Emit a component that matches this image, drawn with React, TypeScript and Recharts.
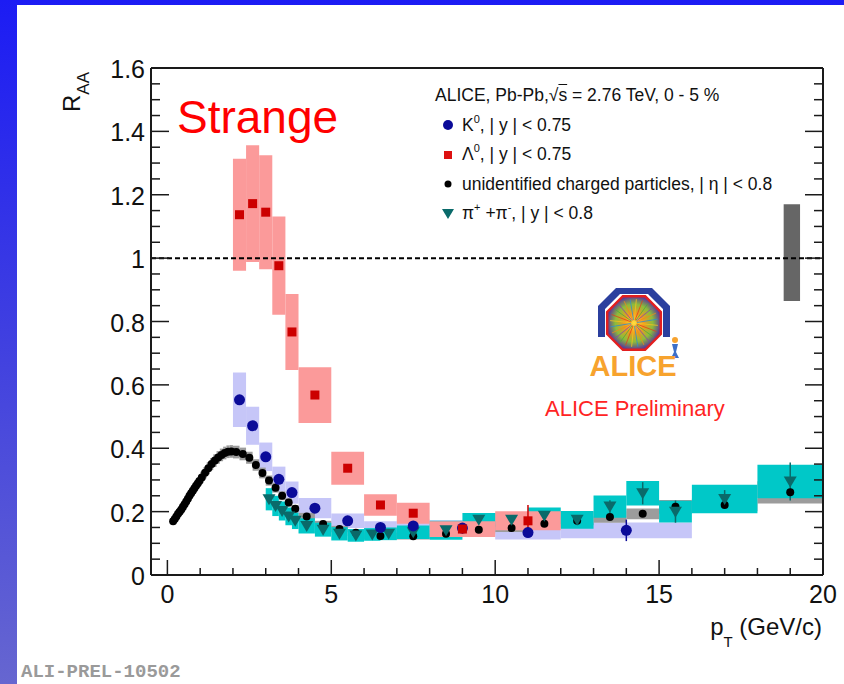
import React from 'react'
import {
  ComposedChart,
  Scatter,
  XAxis,
  YAxis,
  ReferenceArea,
  ReferenceLine,
  ErrorBar,
  Legend,
} from 'recharts'

const FONT = '"Liberation Sans", Arial, Helvetica, sans-serif'
const AXIS = '#1a1a1a'

// unidentified charged particles, |eta| < 0.8: pT bin edges (GeV/c), R_AA, syst.
const CH_EDGES = [
  0.15, 0.2, 0.25, 0.3, 0.35, 0.4, 0.45, 0.5, 0.55, 0.6, 0.65, 0.7, 0.75, 0.8, 0.85, 0.9, 0.95, 1.0,
  1.1, 1.2, 1.3, 1.4, 1.5, 1.6, 1.7, 1.8, 1.9, 2.0,
  2.2, 2.4, 2.6, 2.8, 3.0, 3.2, 3.4, 3.6, 3.8, 4.0,
  4.5, 5.0, 5.5, 6.0,
  7, 8, 9, 10, 11, 12, 13, 14, 15, 16, 18, 20,
]
const CH_RAA = [
  0.17, 0.177, 0.185, 0.193, 0.2, 0.207, 0.215, 0.223, 0.232, 0.241, 0.25, 0.258, 0.266, 0.274, 0.282, 0.289, 0.297,
  0.308, 0.323, 0.337, 0.35, 0.361, 0.371, 0.379, 0.385, 0.389, 0.39,
  0.388, 0.382, 0.37, 0.347, 0.322, 0.298, 0.275, 0.25, 0.229, 0.209,
  0.185, 0.161, 0.145, 0.133,
  0.123, 0.122, 0.13, 0.143, 0.148, 0.162, 0.171, 0.183, 0.193, 0.215, 0.221, 0.261,
]
const CH_SYS = [
  0.012, 0.012, 0.012, 0.013, 0.013, 0.013, 0.014, 0.014, 0.014, 0.015, 0.015, 0.015, 0.016, 0.016, 0.016, 0.017, 0.017,
  0.018, 0.018, 0.019, 0.019, 0.02, 0.02, 0.02, 0.02, 0.02, 0.02,
  0.02, 0.02, 0.019, 0.018, 0.017, 0.016, 0.015, 0.014, 0.013, 0.012,
  0.011, 0.01, 0.01, 0.01,
  0.01, 0.01, 0.011, 0.012, 0.012, 0.013, 0.014, 0.018, 0.017, 0.022, 0.02, 0.035,
]

// pi+ + pi-, |y| < 0.8
const PI_EDGES = [3.0, 3.2, 3.4, 3.6, 3.8, 4.0, 4.5, 5.0, 5.5, 6.0, 6.5, 7.0, 8, 9, 10, 11, 12, 13, 14, 15, 16, 18, 20]
const PI_RAA = [
  0.239, 0.218, 0.202, 0.185, 0.171, 0.155, 0.143, 0.13, 0.125, 0.128, 0.13, 0.135,
  0.141, 0.174, 0.174, 0.187, 0.174, 0.216, 0.258, 0.2, 0.24, 0.295,
]
const PI_SYS = [
  0.035, 0.032, 0.03, 0.028, 0.026, 0.024, 0.022, 0.021, 0.02, 0.02, 0.02, 0.021,
  0.03, 0.022, 0.022, 0.026, 0.028, 0.035, 0.039, 0.034, 0.045, 0.053,
]
const PI_STAT = [
  0.003, 0.003, 0.003, 0.003, 0.003, 0.003, 0.003, 0.003, 0.003, 0.004, 0.004, 0.005,
  0.006, 0.008, 0.01, 0.012, 0.015, 0.02, 0.035, 0.035, 0.028, 0.06,
]

// K0s, |y| < 0.75
const K0_EDGES = [2.0, 2.4, 2.8, 3.2, 3.6, 4.0, 5, 6, 7, 8, 10, 12, 16]
const K0_RAA = [0.553, 0.471, 0.373, 0.302, 0.26, 0.211, 0.171, 0.15, 0.155, 0.148, 0.134, 0.141]
const K0_SYS = [0.086, 0.06, 0.045, 0.04, 0.035, 0.032, 0.023, 0.02, 0.02, 0.025, 0.022, 0.025]
const K0_STAT = [0.005, 0.005, 0.005, 0.005, 0.005, 0.005, 0.005, 0.006, 0.007, 0.01, 0.015, 0.034]

// Lambda, |y| < 0.75
const LA_EDGES = [2.0, 2.4, 2.8, 3.2, 3.6, 4.0, 5, 6, 7, 8, 10, 12]
const LA_RAA = [1.137, 1.172, 1.145, 0.976, 0.767, 0.568, 0.337, 0.221, 0.195, 0.145, 0.171]
const LA_SYS = [0.177, 0.184, 0.18, 0.155, 0.12, 0.088, 0.052, 0.034, 0.033, 0.025, 0.03]
const LA_STAT = [0.01, 0.01, 0.01, 0.01, 0.01, 0.01, 0.008, 0.008, 0.01, 0.015, 0.05]

// normalisation uncertainty box drawn at the right edge
const NORM_BOX = { x1: 18.8, x2: 19.3, y1: 0.865, y2: 1.17 }

const X_MAJOR = [0, 5, 10, 15, 20]
const X_TICKS = Array.from({ length: 21 }, (_, i) => i)
const Y_MAJOR = [0, 0.2, 0.4, 0.6, 0.8, 1, 1.2, 1.4, 1.6]
const Y_TICKS = Array.from({ length: 33 }, (_, i) => (i * 5) / 100)

const COLORS = {
  k0: '#0b0b99',
  k0Box: '#c6c6f8',
  la: '#cc0000',
  laBox: '#fb9a9a',
  ch: '#000000',
  chBox: '#9c9c9c',
  pi: '#0a6a6a',
  piBox: '#00c8c8',
}

type Pt = { x: number; lo: number; hi: number; y: number; sys: number; err: number }

function binned(edges: number[], vals: number[], sys: number[], stat?: number[]): Pt[] {
  return vals.map((y, i) => ({
    x: (edges[i] + edges[i + 1]) / 2,
    lo: edges[i],
    hi: edges[i + 1],
    y,
    sys: sys[i],
    err: stat ? stat[i] : 0,
  }))
}

const charged = binned(CH_EDGES, CH_RAA, CH_SYS)
const pions = binned(PI_EDGES, PI_RAA, PI_SYS, PI_STAT)
const kaons = binned(K0_EDGES, K0_RAA, K0_SYS, K0_STAT)
const lambdas = binned(LA_EDGES, LA_RAA, LA_SYS, LA_STAT)

// ROOT-style frame ticks: pointing into the frame, labels outside
const LeftTick = (p: any) => {
  const v = p.payload.value
  const major = Y_MAJOR.includes(v)
  return (
    <g>
      <line x1={p.x} x2={p.x + (major ? 18 : 9)} y1={p.y} y2={p.y} stroke={AXIS} strokeWidth={1.5} />
      {major && (
        <text x={p.x - 6} y={p.y + 10} textAnchor="end" fontSize={25} fontFamily={FONT} fill="#111">
          {String(v)}
        </text>
      )}
    </g>
  )
}

const RightTick = (p: any) => {
  const major = Y_MAJOR.includes(p.payload.value)
  return <line x1={p.x} x2={p.x - (major ? 18 : 9)} y1={p.y} y2={p.y} stroke={AXIS} strokeWidth={1.5} />
}

const BottomTick = (p: any) => {
  const v = p.payload.value
  const major = X_MAJOR.includes(v)
  return (
    <g>
      <line x1={p.x} x2={p.x} y1={p.y} y2={p.y - (major ? 15 : 7)} stroke={AXIS} strokeWidth={1.5} />
      {major && (
        <text x={p.x} y={p.y + 28} textAnchor="middle" fontSize={25} fontFamily={FONT} fill="#111">
          {String(v)}
        </text>
      )}
    </g>
  )
}

const TopTick = (p: any) => {
  const major = X_MAJOR.includes(p.payload.value)
  return <line x1={p.x} x2={p.x} y1={p.y} y2={p.y + (major ? 15 : 7)} stroke={AXIS} strokeWidth={1.5} />
}

// marker shapes
const ChargedDot = (p: any) => <circle cx={p.cx} cy={p.cy} r={4} fill={COLORS.ch} />
const KaonDot = (p: any) => <circle cx={p.cx} cy={p.cy} r={5.5} fill={COLORS.k0} />
const LambdaSquare = (p: any) => <rect x={p.cx - 4.5} y={p.cy - 4.5} width={9} height={9} fill={COLORS.la} />
const PionTriangle = (p: any) => (
  <polygon
    points={`${p.cx - 6.5},${p.cy - 5} ${p.cx + 6.5},${p.cy - 5} ${p.cx},${p.cy + 6}`}
    fill={COLORS.pi}
  />
)

const LEGEND_LABELS = [
  <>K<sup style={supStyle()}>0</sup>, | y | &lt; 0.75</>,
  <>&Lambda;<sup style={supStyle()}>0</sup>, | y | &lt; 0.75</>,
  <>unidentified charged particles, | &eta; | &lt; 0.8</>,
  <>&pi;<sup style={supStyle()}>+</sup> +&pi;<sup style={supStyle()}>-</sup>, | y | &lt; 0.8</>,
]

function supStyle(): React.CSSProperties {
  return { fontSize: 11, verticalAlign: 'baseline', position: 'relative', top: -8, lineHeight: 0 }
}

const legendMarkers = [
  <circle cx={7} cy={7} r={5} fill={COLORS.k0} />,
  <rect x={3} y={3} width={8} height={8} fill="#dd1111" />,
  <circle cx={7} cy={7} r={3.5} fill={COLORS.ch} />,
  <polygon points="1,2 13,2 7,12" fill={COLORS.pi} />,
]

const LegendContent = () => (
  <div style={{ fontFamily: FONT, fontSize: 17.5, color: '#111', lineHeight: '29.5px', whiteSpace: 'nowrap' }}>
    <div style={{ paddingLeft: 1 }}>
      ALICE, Pb-Pb,&radic;<span style={{ textDecoration: 'overline' }}>s</span> = 2.76 TeV, 0 - 5 %
    </div>
    {LEGEND_LABELS.map((label, i) => (
      <div key={i} style={{ display: 'flex', alignItems: 'center', height: 29.5 }}>
        <svg width={14} height={14} style={{ marginLeft: 7, marginRight: 7 }}>
          {legendMarkers[i]}
        </svg>
        <span>{label}</span>
      </div>
    ))}
  </div>
)

const boxes = (pts: Pt[], fill: string, key: string) =>
  pts.map((d, i) => (
    <ReferenceArea
      key={`${key}${i}`}
      x1={d.lo}
      x2={d.hi}
      y1={d.y - d.sys}
      y2={d.y + d.sys}
      fill={fill}
      fillOpacity={1}
      stroke="none"
      ifOverflow="visible"
    />
  ))

const BURST_COLORS = ['#f5c21f', '#e2401c', '#4caf3c', '#8a44b0', '#f08a1a', '#2e8fd0']
const BURST_ANGLES = Array.from({ length: 24 }, (_, i) => (i * Math.PI) / 12 + 0.1)

function AliceLogo() {
  const cx = 634
  const cy = 323
  const oct = [
    [11.1, -26.8], [26.8, -11.1], [26.8, 11.1], [11.1, 26.8],
    [-11.1, 26.8], [-26.8, 11.1], [-26.8, -11.1], [-11.1, -26.8],
  ]
    .map(([dx, dy]) => `${cx + dx},${cy + dy}`)
    .join(' ')
  return (
    <g>
      <defs>
        <radialGradient id="alice-burst" cx="50%" cy="50%" r="50%">
          <stop offset="0%" stopColor="#ffe040" />
          <stop offset="35%" stopColor="#f39a1e" />
          <stop offset="70%" stopColor="#8cbc3a" />
          <stop offset="100%" stopColor="#5b3c98" />
        </radialGradient>
      </defs>
      <polygon
        points="616,288 652,288 670,306 670,337 663,337 663,309 648,294 620,294 605,309 605,337 598,337 598,306"
        fill="#2b3f9e"
      />
      <polygon points={oct} fill="url(#alice-burst)" stroke="#e21f1f" strokeWidth={2.5} />
      {BURST_ANGLES.map((a, i) => (
        <line
          key={i}
          x1={cx + 3 * Math.cos(a)}
          y1={cy + 3 * Math.sin(a)}
          x2={cx + 24 * Math.cos(a)}
          y2={cy + 24 * Math.sin(a)}
          stroke={BURST_COLORS[i % BURST_COLORS.length]}
          strokeWidth={1}
          opacity={0.8}
        />
      ))}
      <circle cx={675} cy={340} r={3} fill="#f7a32e" />
      <path d="M672,344 L678,344 L676,352 L679,358 L671,358 L674,352 Z" fill="#3c6fc8" />
      <text x={633} y={376} textAnchor="middle" fontSize={29} fontWeight="bold" fontFamily={FONT} fill="#f7a32e">
        ALICE
      </text>
    </g>
  )
}

export default function App() {
  return (
    <div
      style={{
        position: 'absolute',
        left: 0,
        top: 0,
        width: 844,
        height: 684,
        background: 'linear-gradient(to bottom, #1c1cf4 0%, #4040e0 50%, #6666d0 100%)',
        overflow: 'hidden',
      }}
    >
      <div style={{ position: 'absolute', left: 17, top: 5, right: 0, bottom: 0, background: '#ffffff' }} />
      <div style={{ position: 'absolute', left: 0, top: 0 }}>
        <ComposedChart width={844} height={684} margin={{ top: 67, right: 20, bottom: 69, left: 91 }}>
          <XAxis
            dataKey="x"
            type="number"
            domain={[-0.5, 20]}
            allowDataOverflow
            ticks={X_TICKS}
            interval={0}
            tickSize={0}
            tickMargin={0}
            tickLine={false}
            tick={BottomTick}
            axisLine={{ stroke: AXIS, strokeWidth: 2 }}
            height={40}
          />
          <XAxis
            xAxisId="top"
            orientation="top"
            type="number"
            domain={[-0.5, 20]}
            allowDataOverflow
            ticks={X_TICKS}
            interval={0}
            tickSize={0}
            tickMargin={0}
            tickLine={false}
            tick={TopTick}
            axisLine={{ stroke: AXIS, strokeWidth: 2 }}
            height={1}
          />
          <YAxis
            dataKey="y"
            type="number"
            domain={[0, 1.6]}
            allowDataOverflow
            ticks={Y_TICKS}
            interval={0}
            tickSize={0}
            tickMargin={0}
            tickLine={false}
            tick={LeftTick}
            axisLine={{ stroke: AXIS, strokeWidth: 2 }}
            width={60}
          />
          <YAxis
            yAxisId="right"
            orientation="right"
            type="number"
            domain={[0, 1.6]}
            allowDataOverflow
            ticks={Y_TICKS}
            interval={0}
            tickSize={0}
            tickMargin={0}
            tickLine={false}
            tick={RightTick}
            axisLine={{ stroke: AXIS, strokeWidth: 2 }}
            width={1}
          />

          <ReferenceLine y={1} stroke="#000" strokeWidth={2} strokeDasharray="5 3" />

          {boxes(kaons, COLORS.k0Box, 'k')}
          {boxes(charged, COLORS.chBox, 'c')}
          {boxes(pions, COLORS.piBox, 'p')}
          {boxes(lambdas, COLORS.laBox, 'l')}
          <ReferenceArea
            x1={NORM_BOX.x1}
            x2={NORM_BOX.x2}
            y1={NORM_BOX.y1}
            y2={NORM_BOX.y2}
            fill="#666666"
            fillOpacity={1}
            stroke="none"
          />

          <Scatter name="charged" data={charged} shape={ChargedDot} isAnimationActive={false} />
          <Scatter name="pions" data={pions} shape={PionTriangle} isAnimationActive={false}>
            <ErrorBar dataKey="err" direction="y" width={0} stroke={COLORS.pi} strokeWidth={1.5} />
          </Scatter>
          <Scatter name="K0" data={kaons} shape={KaonDot} isAnimationActive={false}>
            <ErrorBar dataKey="err" direction="y" width={0} stroke={COLORS.k0} strokeWidth={1.5} />
          </Scatter>
          <Scatter name="Lambda" data={lambdas} shape={LambdaSquare} isAnimationActive={false}>
            <ErrorBar dataKey="err" direction="y" width={0} stroke={COLORS.la} strokeWidth={1.5} />
          </Scatter>

          <Legend
            layout="vertical"
            align="center"
            verticalAlign="middle"
            wrapperStyle={{ left: 434, top: 81, width: 400 }}
            content={LegendContent}
          />
        </ComposedChart>
      </div>

      <svg
        width={844}
        height={684}
        style={{ position: 'absolute', left: 0, top: 0, pointerEvents: 'none' }}
        fontFamily={FONT}
      >
        <text x={177} y={133} fontSize={46} fill="#ff0000">
          Strange
        </text>
        <AliceLogo />
        <text x={545} y={416} fontSize={22} fill="#ff2424">
          ALICE Preliminary
        </text>
        <text transform="translate(80,112) rotate(-90)" fontSize={24} fill="#111">
          R<tspan fontSize={17} dy={9}>AA</tspan>
        </text>
        <text x={822} y={635} textAnchor="end" fontSize={24} fill="#111">
          p<tspan fontSize={15} dy={12}>T</tspan>
          <tspan dy={-12}> (GeV/c)</tspan>
        </text>
        <text x={21} y={677} fontSize={19} fontWeight="bold" fontFamily='"Liberation Mono", "DejaVu Sans Mono", monospace' fill="#9a9a9a">
          ALI-PREL-10502
        </text>
      </svg>
    </div>
  )
}
